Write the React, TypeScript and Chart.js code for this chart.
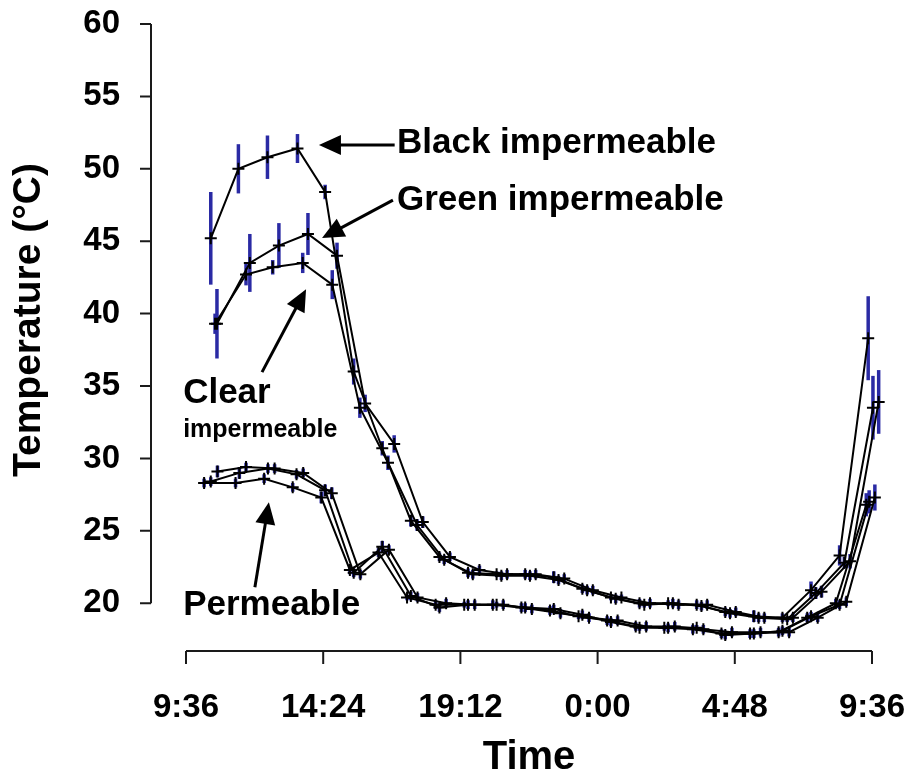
import { useEffect, useRef } from "react";
import { Chart, registerables } from "chart.js";

Chart.register(...registerables);

// Axis setup (time in hours since midnight of day one, temperature in °C)
const xTickHours = [9.6, 14.4, 19.2, 24, 28.8, 33.6];
const xTickLabels = ["9:36", "14:24", "19:12", "0:00", "4:48", "9:36"];
const yTickValues = [20, 25, 30, 35, 40, 45, 50, 55, 60];
const X_MIN = 9.6;
const X_MAX = 33.6;
const Y_MIN = 16.7;
const Y_MAX = 60;

// Black impermeable
const blackImpTimes = ["10:28", "11:26", "12:27", "13:30", "14:28", "15:28", "16:28", "17:28", "18:28", "19:28", "20:28", "21:28", "22:28", "23:28", "0:28", "1:28", "2:28", "3:28", "4:28", "5:28", "6:28", "7:28", "8:28", "9:28"];
const blackImpValues = [45.2, 50.0, 50.8, 51.4, 48.4, 36.0, 30.7, 25.7, 23.2, 22.1, 22.0, 22.0, 21.8, 21.0, 20.4, 20.0, 20.0, 19.9, 19.4, 19.1, 19.0, 20.9, 23.3, 38.3];
const blackImpErrors = [3.2, 1.7, 1.5, 1.0, 0.5, 0.9, 0.5, 0.4, 0.3, 0.3, 0.2, 0.3, 0.4, 0.3, 0.2, 0.3, 0.2, 0.3, 0.3, 0.4, 0.3, 0.6, 0.7, 2.9];

// Green impermeable
const greenImpTimes = ["10:41", "11:50", "12:51", "13:52", "14:53", "15:52", "16:53", "17:53", "18:50", "19:52", "20:50", "21:50", "22:50", "23:50", "0:50", "1:50", "2:50", "3:50", "4:50", "5:50", "6:50", "7:50", "8:50", "9:50"];
const greenImpValues = [39.3, 43.5, 44.7, 45.5, 44.0, 33.8, 31.0, 25.6, 23.2, 22.3, 22.0, 22.0, 21.7, 20.9, 20.4, 20.0, 19.9, 19.9, 19.4, 19.0, 19.0, 20.8, 22.9, 33.9];
const greenImpErrors = [2.4, 2.0, 1.55, 1.45, 0.9, 0.6, 0.6, 0.4, 0.3, 0.3, 0.3, 0.3, 0.3, 0.3, 0.2, 0.3, 0.3, 0.3, 0.3, 0.3, 0.3, 0.4, 0.5, 2.2];

// Clear impermeable
const clearImpTimes = ["10:37", "11:42", "12:38", "13:41", "14:43", "15:41", "16:40", "17:41", "18:38", "19:38", "20:38", "21:38", "22:38", "23:38", "0:38", "1:38", "2:38", "3:38", "4:38", "5:38", "6:38", "7:38", "8:38", "9:38"];
const clearImpValues = [39.3, 42.7, 43.2, 43.5, 42.0, 33.5, 29.7, 25.4, 23.0, 22.0, 21.9, 21.9, 21.6, 20.9, 20.3, 19.9, 20.0, 19.8, 19.3, 19.0, 18.9, 20.7, 22.8, 33.5];
const clearImpErrors = [0.7, 0.75, 0.5, 0.7, 1.0, 0.7, 0.5, 0.4, 0.3, 0.3, 0.3, 0.3, 0.3, 0.3, 0.3, 0.2, 0.3, 0.3, 0.3, 0.3, 0.2, 0.4, 0.4, 2.2];

// Black permeable
const blackPermTimes = ["10:14", "11:20", "12:20", "13:20", "14:20", "15:20", "16:20", "17:20", "18:20", "19:20", "20:20", "21:20", "22:20", "23:20", "0:20", "1:20", "2:20", "3:20", "4:20", "5:20", "6:20", "7:20", "8:20", "9:24"];
const blackPermValues = [28.3, 28.3, 28.6, 28.0, 27.3, 22.3, 23.5, 20.4, 19.9, 19.9, 19.9, 19.7, 19.5, 19.1, 18.8, 18.4, 18.3, 18.2, 17.9, 17.9, 18.0, 19.0, 20.0, 26.8];
const blackPermErrors = [0.3, 0.3, 0.3, 0.3, 0.4, 0.3, 0.3, 0.2, 0.3, 0.2, 0.3, 0.3, 0.3, 0.2, 0.3, 0.3, 0.2, 0.3, 0.3, 0.3, 0.3, 0.3, 0.3, 0.8];

// Green permeable
const greenPermTimes = ["10:28", "11:28", "12:28", "13:28", "14:28", "15:28", "16:28", "17:28", "18:28", "19:28", "20:28", "21:28", "22:28", "23:28", "0:28", "1:28", "2:28", "3:28", "4:28", "5:28", "6:28", "7:28", "8:28", "9:30"];
const greenPermValues = [28.4, 29.0, 29.3, 28.9, 27.8, 22.1, 23.9, 20.5, 19.7, 19.9, 19.9, 19.7, 19.6, 19.2, 18.7, 18.3, 18.3, 18.3, 17.8, 17.9, 18.1, 19.1, 19.9, 27.0];
const greenPermErrors = [0.3, 0.4, 0.3, 0.3, 0.4, 0.3, 0.4, 0.3, 0.3, 0.3, 0.2, 0.3, 0.3, 0.3, 0.3, 0.2, 0.3, 0.2, 0.3, 0.3, 0.3, 0.3, 0.3, 0.8];

// Clear permeable
const clearPermTimes = ["10:42", "11:42", "12:42", "13:42", "14:42", "15:42", "16:42", "17:42", "18:42", "19:42", "20:42", "21:42", "22:42", "23:42", "0:42", "1:42", "2:42", "3:42", "4:42", "5:42", "6:42", "7:42", "8:42", "9:42"];
const clearPermValues = [29.1, 29.4, 29.3, 29.0, 27.6, 22.0, 23.7, 20.4, 20.0, 19.9, 19.9, 19.6, 19.3, 19.0, 18.8, 18.4, 18.4, 18.2, 18.0, 18.0, 18.0, 19.0, 20.1, 27.3];
const clearPermErrors = [0.4, 0.3, 0.3, 0.3, 0.4, 0.3, 0.3, 0.3, 0.3, 0.3, 0.3, 0.3, 0.3, 0.3, 0.3, 0.3, 0.3, 0.3, 0.3, 0.3, 0.3, 0.3, 0.3, 0.9];

// Text callouts, placed in data units (hour, °C)
const calloutTexts = [
  { text: "Black impermeable", hour: 16.98, temp: 51.75, size: 35 },
  { text: "Green impermeable", hour: 16.98, temp: 47.82, size: 35 },
  { text: "Clear", hour: 9.5, temp: 34.5, size: 35 },
  { text: "impermeable", hour: 9.5, temp: 31.95, size: 25 },
  { text: "Permeable", hour: 9.5, temp: 19.86, size: 35 },
];
const calloutArrows = [
  { fromHour: 16.9, fromTemp: 51.64, toHour: 14.25, toTemp: 51.64 },
  { fromHour: 16.84, fromTemp: 47.84, toHour: 14.36, toTemp: 45.22 },
  { fromHour: 12.26, fromTemp: 35.96, toHour: 13.8, toTemp: 41.69 },
  { fromHour: 12.01, fromTemp: 21.11, toHour: 12.5, toTemp: 26.98 },
];

const FONT = "'Liberation Sans', Arial, Helvetica, sans-serif";
const BAR_COLOR = "#2a2aa4";

const seriesList = [
  { label: "Permeable (black)", times: blackPermTimes, values: blackPermValues, errors: blackPermErrors },
  { label: "Permeable (green)", times: greenPermTimes, values: greenPermValues, errors: greenPermErrors },
  { label: "Permeable (clear)", times: clearPermTimes, values: clearPermValues, errors: clearPermErrors },
  { label: "Clear impermeable", times: clearImpTimes, values: clearImpValues, errors: clearImpErrors },
  { label: "Green impermeable", times: greenImpTimes, values: greenImpValues, errors: greenImpErrors },
  { label: "Black impermeable", times: blackImpTimes, values: blackImpValues, errors: blackImpErrors },
];

// Clock strings to running hours; rolls past midnight into the next day.
function toRunningHours(times: string[]): number[] {
  let dayOffset = 0;
  let prev = -Infinity;
  return times.map((t) => {
    const [h, m] = t.split(":").map(Number);
    let v = h + m / 60 + dayOffset;
    if (v < prev) {
      dayOffset += 24;
      v += 24;
    }
    prev = v;
    return v;
  });
}

const errorBarsPlugin = {
  id: "errorBars",
  beforeDatasetsDraw(chart: any) {
    const { ctx } = chart;
    const yScale = chart.scales.y;
    ctx.save();
    ctx.strokeStyle = BAR_COLOR;
    ctx.lineWidth = 3.5;
    ctx.lineCap = "butt";
    seriesList.forEach((s, i) => {
      const meta = chart.getDatasetMeta(i);
      meta.data.forEach((pt: any, j: number) => {
        const v = s.values[j];
        const e = s.errors[j];
        ctx.beginPath();
        ctx.moveTo(pt.x, yScale.getPixelForValue(v + e));
        ctx.lineTo(pt.x, yScale.getPixelForValue(v - e));
        ctx.stroke();
      });
    });
    ctx.restore();
  },
};

const axesFramePlugin = {
  id: "axesFrame",
  afterDraw(chart: any) {
    const { ctx, chartArea } = chart;
    const xs = chart.scales.x;
    const ys = chart.scales.y;
    ctx.save();
    ctx.strokeStyle = "#1a1a1a";
    ctx.lineWidth = 2;
    // detached y axis with outward ticks
    const ax = chartArea.left - 35;
    const yTop = ys.getPixelForValue(yTickValues[yTickValues.length - 1]);
    const yBot = ys.getPixelForValue(yTickValues[0]);
    ctx.beginPath();
    ctx.moveTo(ax, yTop);
    ctx.lineTo(ax, yBot);
    yTickValues.forEach((v) => {
      const p = ys.getPixelForValue(v);
      ctx.moveTo(ax - 11, p);
      ctx.lineTo(ax, p);
    });
    ctx.stroke();
    // x axis along the bottom with downward ticks
    const ay = chartArea.bottom;
    ctx.beginPath();
    ctx.moveTo(xs.getPixelForValue(X_MIN), ay);
    ctx.lineTo(xs.getPixelForValue(X_MAX), ay);
    xTickHours.forEach((h) => {
      const p = xs.getPixelForValue(h);
      ctx.moveTo(p, ay);
      ctx.lineTo(p, ay + 13);
    });
    ctx.stroke();

    // y axis title
    ctx.fillStyle = "#000";
    ctx.font = `bold 39px ${FONT}`;
    ctx.textAlign = "center";
    ctx.textBaseline = "middle";
    ctx.translate(29, 320);
    ctx.rotate(-Math.PI / 2);
    ctx.fillText("Temperature (°C)", 0, 0);
    ctx.restore();
  },
};

const calloutsPlugin = {
  id: "callouts",
  afterDraw(chart: any) {
    const { ctx } = chart;
    const xs = chart.scales.x;
    const ys = chart.scales.y;
    ctx.save();
    ctx.fillStyle = "#000";
    ctx.strokeStyle = "#000";
    ctx.textAlign = "left";
    ctx.textBaseline = "middle";
    calloutTexts.forEach((c) => {
      ctx.font = `bold ${c.size}px ${FONT}`;
      ctx.fillText(c.text, xs.getPixelForValue(c.hour), ys.getPixelForValue(c.temp));
    });
    const headLen = 22;
    const halfW = 10;
    ctx.lineWidth = 3;
    calloutArrows.forEach((a) => {
      const x1 = xs.getPixelForValue(a.fromHour);
      const y1 = ys.getPixelForValue(a.fromTemp);
      const x2 = xs.getPixelForValue(a.toHour);
      const y2 = ys.getPixelForValue(a.toTemp);
      const len = Math.hypot(x2 - x1, y2 - y1);
      const ux = (x2 - x1) / len;
      const uy = (y2 - y1) / len;
      const bx = x2 - ux * headLen;
      const by = y2 - uy * headLen;
      ctx.beginPath();
      ctx.moveTo(x1, y1);
      ctx.lineTo(bx + ux * 2, by + uy * 2);
      ctx.stroke();
      ctx.beginPath();
      ctx.moveTo(x2, y2);
      ctx.lineTo(bx - uy * halfW, by + ux * halfW);
      ctx.lineTo(bx + uy * halfW, by - ux * halfW);
      ctx.closePath();
      ctx.fill();
    });
    ctx.restore();
  },
};

export default function App() {
  const canvasRef = useRef<HTMLCanvasElement | null>(null);

  useEffect(() => {
    const canvas = canvasRef.current;
    if (!canvas) return;

    const datasets = seriesList.map((s) => {
      const hours = toRunningHours(s.times);
      return {
        label: s.label,
        data: hours.map((h, j) => ({ x: h, y: s.values[j] })),
        showLine: true,
        borderColor: "#000",
        borderWidth: 2,
        pointStyle: "cross" as const,
        pointRadius: 6,
        pointBorderWidth: 2,
        pointBorderColor: "#000",
        pointBackgroundColor: "#000",
        tension: 0,
        clip: false as const,
      };
    });

    const chart = new Chart(canvas, {
      type: "scatter",
      data: { datasets },
      plugins: [errorBarsPlugin, axesFramePlugin, calloutsPlugin],
      options: {
        animation: false,
        responsive: false,
        devicePixelRatio: 1,
        layout: { padding: { top: 24, right: 32, left: 0, bottom: 0 } },
        plugins: {
          legend: { display: false },
          tooltip: { enabled: false },
        },
        scales: {
          x: {
            type: "linear",
            min: X_MIN,
            max: X_MAX,
            grid: { display: false, drawTicks: false, tickLength: 0 },
            border: { display: false },
            afterBuildTicks: (scale: any) => {
              scale.ticks = xTickHours.map((v) => ({ value: v }));
            },
            afterFit: (scale: any) => {
              scale.height = 127;
              scale.paddingLeft = 0;
              scale.paddingRight = 0;
            },
            ticks: {
              autoSkip: false,
              maxRotation: 0,
              padding: 37,
              color: "#000",
              font: { family: FONT, size: 33, weight: "bold" },
              callback: (value: any) => {
                const idx = xTickHours.findIndex((h) => Math.abs(h - Number(value)) < 1e-6);
                return idx >= 0 ? xTickLabels[idx] : "";
              },
            },
            title: {
              display: true,
              text: "Time",
              color: "#000",
              padding: 0,
              font: { family: FONT, size: 40, weight: "bold", lineHeight: 1 },
            },
          },
          y: {
            type: "linear",
            min: Y_MIN,
            max: Y_MAX,
            grid: { display: false, drawTicks: false, tickLength: 0 },
            border: { display: false },
            afterBuildTicks: (scale: any) => {
              scale.ticks = yTickValues.map((v) => ({ value: v }));
            },
            afterFit: (scale: any) => {
              scale.width = 186;
              scale.paddingTop = 0;
              scale.paddingBottom = 0;
            },
            ticks: {
              padding: 66,
              color: "#000",
              font: { family: FONT, size: 33, weight: "bold" },
              callback: (value: any) => String(value),
            },
          },
        },
      },
    } as any);

    return () => chart.destroy();
  }, []);

  return (
    <div style={{ position: "absolute", left: 0, top: 0, width: 904, height: 778, background: "#fff" }}>
      <canvas ref={canvasRef} width={904} height={778} style={{ display: "block", width: 904, height: 778 }} />
    </div>
  );
}
